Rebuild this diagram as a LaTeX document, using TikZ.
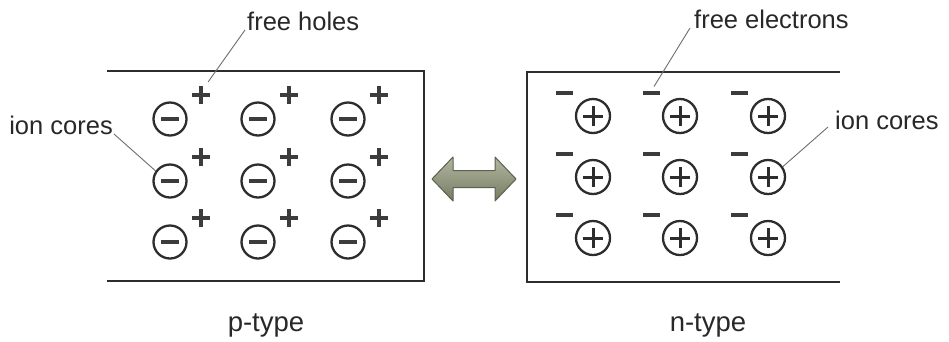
\documentclass[tikz,border=0pt]{standalone}
\usepackage{fontspec}
\setmainfont{Liberation Sans}
\definecolor{inkgray}{RGB}{45,45,45}
\definecolor{signgray}{RGB}{60,60,60}
\definecolor{leadgray}{RGB}{110,110,110}
\definecolor{textgray}{RGB}{40,40,40}
\definecolor{arrowtop}{RGB}{178,182,160}
\definecolor{arrowbot}{RGB}{118,124,100}
\definecolor{arrowedge}{RGB}{92,97,78}
\begin{document}
\begin{tikzpicture}[x=1pt,y=-1pt,
  ink/.style={draw=inkgray},
  frame/.style={ink, line width=1.4pt},
  leader/.style={draw=leadgray, line width=0.9pt},
  lbl/.style={text=textgray, font=\fontsize{25.5}{30}\selectfont, inner sep=0pt},
  typelbl/.style={lbl, font=\fontsize{27.5}{32}\selectfont},
  % negative acceptor ion core (circled minus)
  negcore/.style={circle, ink, line width=2.3pt, minimum size=33pt, inner sep=0pt,
    path picture={\fill[signgray]
      ([xshift=-9pt,yshift=-2.4pt]path picture bounding box.center) rectangle
      ([xshift=9pt,yshift=2.4pt]path picture bounding box.center);}},
  % positive donor ion core (circled plus)
  poscore/.style={circle, ink, line width=2.3pt, minimum size=34pt, inner sep=0pt,
    path picture={\draw[line width=3pt, inkgray]
      ([xshift=-10pt]path picture bounding box.center) -- ([xshift=10pt]path picture bounding box.center)
      ([yshift=-10pt]path picture bounding box.center) -- ([yshift=10pt]path picture bounding box.center);}},
  % free hole (plus sign)
  hole/.style={minimum size=18pt, inner sep=0pt,
    path picture={\draw[line width=3.6pt, signgray]
      ([xshift=-9pt]path picture bounding box.center) -- ([xshift=9pt]path picture bounding box.center)
      ([yshift=-9pt]path picture bounding box.center) -- ([yshift=9pt]path picture bounding box.center);}},
  % free electron (minus sign)
  electron/.style={minimum width=17pt, minimum height=4.5pt, inner sep=0pt, fill=signgray},
]
\useasboundingbox[fill=white] (0,0) rectangle (949,341);

% p-type crystal (open on the left)
\coordinate (pA) at (107,71);
\coordinate (pB) at (424,71);
\coordinate (pC) at (424,281);
\coordinate (pD) at (107,281);
\draw[frame] (pA) -- (pB) -- (pC) -- (pD);

% n-type crystal (open on the right)
\coordinate (nA) at (840,72);
\coordinate (nB) at (527,72);
\coordinate (nC) at (527,282);
\coordinate (nD) at (840,282);
\draw[frame] (nA) -- (nB) -- (nC) -- (nD);

% p-type lattice: ion cores and free holes
\foreach \c/\x in {1/170,2/258,3/348}{
  \foreach \r/\y in {1/119,2/181,3/242}{
    \node[negcore] (pc\r\c) at (\x,\y) {};
    \node[hole] (ph\r\c) at (\x+31,\y-24) {};
  }
}

% n-type lattice: ion cores and free electrons
\foreach \c/\x in {1/593,2/680,3/768}{
  \foreach \r/\y in {1/116,2/177,3/238}{
    \node[poscore] (nc\r\c) at (\x,\y) {};
    \node[electron] (ne\r\c) at (\x-29,\y-23) {};
  }
}

% labels
\node[lbl, anchor=base west] (fh) at (247,30) {free holes};
\node[lbl, anchor=base east] (icl) at (113,134) {ion cores};
\node[lbl, anchor=base west] (fe) at (694,28) {free electrons};
\node[lbl, anchor=base west] (icr) at (835,129) {ion cores};
\node[typelbl, anchor=base] (pt) at (266,331) {p-type};
\node[typelbl, anchor=base] (nt) at (708,331) {n-type};

% leader lines
\draw[leader] ([xshift=-2pt]fh.base west) -- ([xshift=-2pt,yshift=4pt]ph11.north east);
\draw[leader] ([xshift=1pt]icl.base east) -- (pc21.145);
\draw[leader] ([xshift=-4pt]fe.base west) -- ([xshift=3pt,yshift=4pt]ne12.north);
\draw[leader] ([xshift=-7pt,yshift=2pt]icr.base west) -- (nc23.35);

% double arrow between the two crystals
\coordinate (al) at (432,179);
\coordinate (ar) at (516,179);
\path[top color=arrowtop, bottom color=arrowbot,
      draw=arrowedge, line width=1pt, line join=round]
  (al) -- ++(21,-22) -- ++(0,13.5) -- ++(42,0) -- ++(0,-13.5) -- (ar)
  -- ++(-21,22) -- ++(0,-13.5) -- ++(-42,0) -- ++(0,13.5) -- cycle;
\end{tikzpicture}
\end{document}
